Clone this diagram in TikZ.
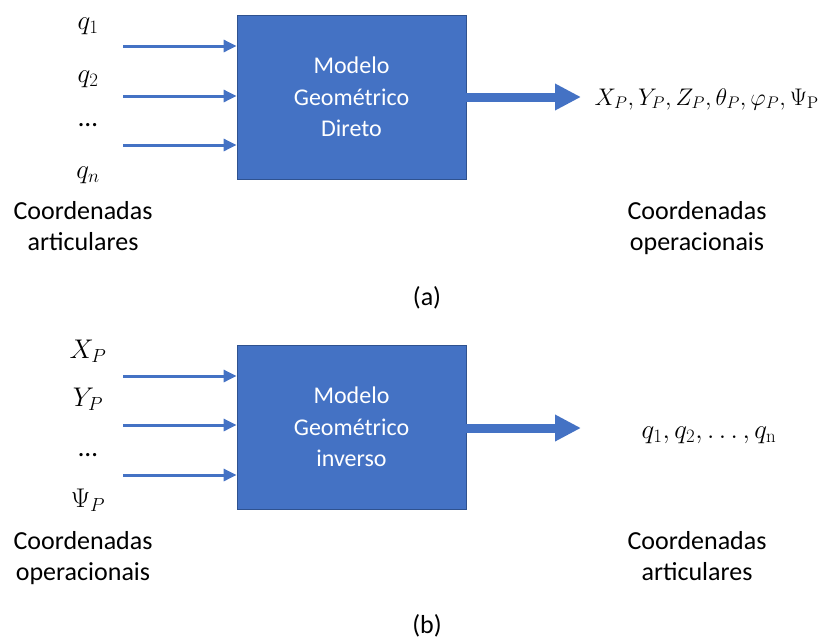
\RequirePackage{fix-cm}
\documentclass[tikz,border=0pt]{standalone}
\usepackage[no-math]{fontspec}
\setmainfont{Carlito}
\usetikzlibrary{arrows.meta,positioning}

\definecolor{blockblue}{HTML}{4472C4}
\definecolor{blockedge}{HTML}{2F528F}

\tikzset{
  modelbox/.style={rectangle, draw=blockedge, line width=0.8pt, fill=blockblue,
    text=white, minimum width=229pt, minimum height=164pt, inner sep=0pt,
    align=center, font=\fontsize{24}{31.5}\selectfont},
  inarrow/.style={-{Triangle[length=13pt,width=12pt]}, line width=3pt, color=blockblue},
  outarrow/.style={-{Triangle[length=26pt,width=25pt]}, line width=9pt, color=blockblue},
  lbl/.style={font=\fontsize{26}{31}\selectfont, align=center, inner sep=0pt, anchor=north},
  var/.style={font=\fontsize{27}{32}\selectfont, inner sep=0pt, anchor=base}
}

\begin{document}
\begin{tikzpicture}[x=1pt, y=-1pt]
    \useasboundingbox (0,0) rectangle (825,638);

    % (a) direct model
    \node[modelbox] (boxa) at (351.5,97) {Modelo\\Geométrico\\Direto};
    \node[var] (qa1) at (88,29) {$q_1$};
    \node[var] (qa2) at (88,82) {$q_2$};
    \node[var] (qadots) at (88,126) {…};
    \node[var] (qan) at (88,178) {$q_n$};
    \node[lbl] (artica) at (83,201) {Coordenadas\\articulares};
    \node[var, anchor=base east, font=\fontsize{24}{29}\selectfont] (opa) at (819,105)
        {$X_P, Y_P, Z_P, \theta_P, \varphi_P, \Psi_{\mathrm{P}}$};
    \node[lbl] (operla) at (697,201) {Coordenadas\\operacionais};
    \node[lbl, anchor=base] (capa) at (427,305) {(a)};

    \coordinate (ina1) at (123,46);
    \coordinate (ina2) at (123,96);
    \coordinate (ina3) at (123,145);
    \coordinate (outa) at (581,97);
    \draw[inarrow] (ina1) -- (ina1 -| boxa.west);
    \draw[inarrow] (ina2) -- (ina2 -| boxa.west);
    \draw[inarrow] (ina3) -- (ina3 -| boxa.west);
    \draw[outarrow] (outa -| boxa.east) -- (outa);

    % (b) inverse model
    \node[modelbox] (boxb) at (351.5,427) {Modelo\\Geométrico\\inverso};
    \node[var] (xb) at (88,358) {$X_P$};
    \node[var] (yb) at (88,406) {$Y_P$};
    \node[var] (bdots) at (88,456) {…};
    \node[var] (psib) at (88,507) {$\Psi_P$};
    \node[lbl] (operlb) at (83,531) {Coordenadas\\operacionais};
    \node[var] (qb) at (709,438) {$q_1, q_2, \dots, q_{\mathrm{n}}$};
    \node[lbl] (articb) at (697,531) {Coordenadas\\articulares};
    \node[lbl, anchor=base] (capb) at (427,633) {(b)};

    \coordinate (inb1) at (123,376);
    \coordinate (inb2) at (123,425);
    \coordinate (inb3) at (123,475);
    \coordinate (outb) at (581,428);
    \draw[inarrow] (inb1) -- (inb1 -| boxb.west);
    \draw[inarrow] (inb2) -- (inb2 -| boxb.west);
    \draw[inarrow] (inb3) -- (inb3 -| boxb.west);
    \draw[outarrow] (outb -| boxb.east) -- (outb);
\end{tikzpicture}
\end{document}
